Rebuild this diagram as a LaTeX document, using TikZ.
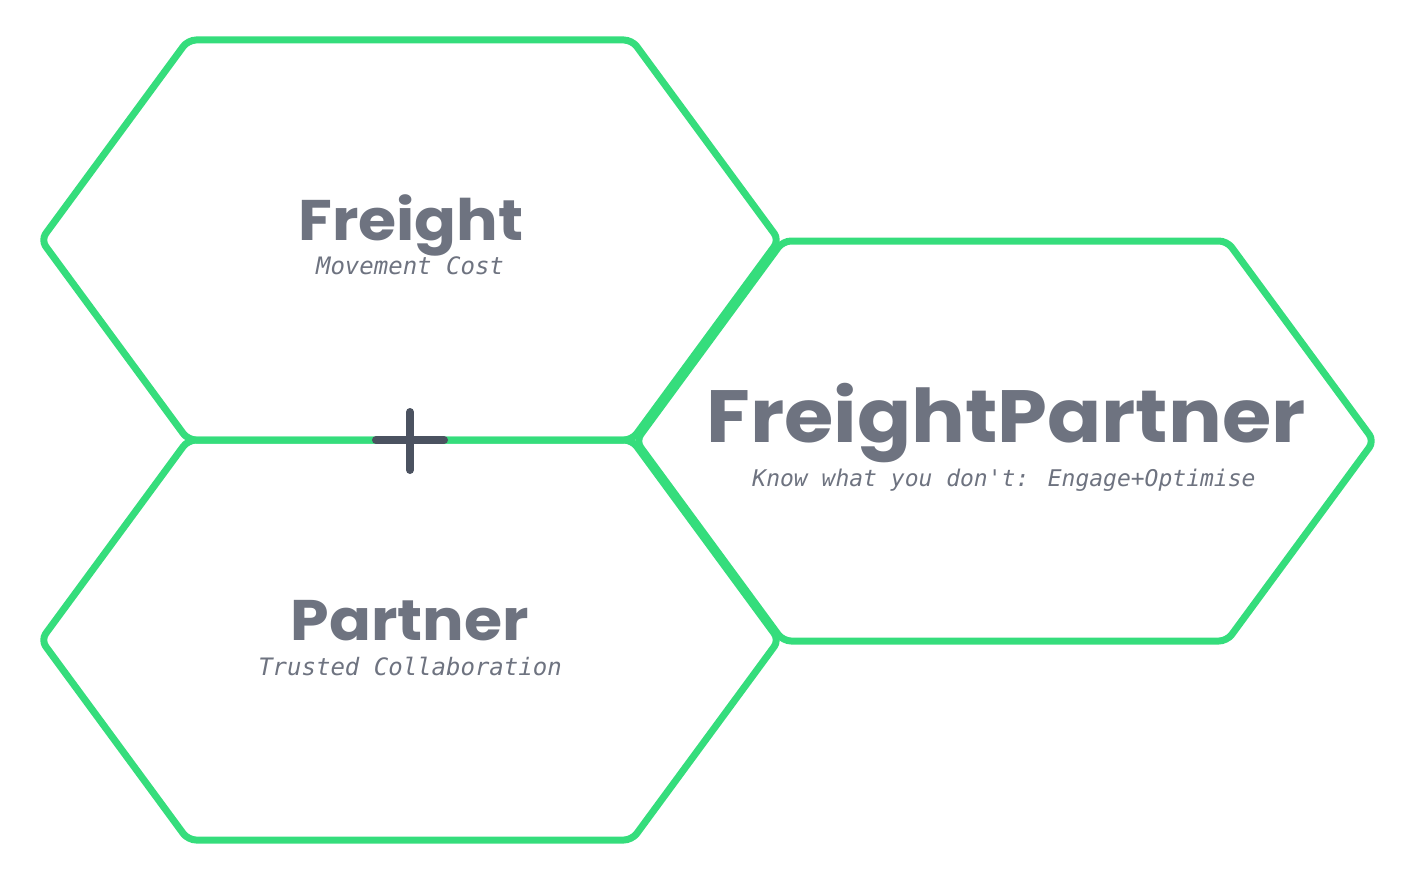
\documentclass[tikz,border=0pt]{standalone}
\usepackage{fontspec}
\newfontfamily\headfont{Poppins}
\newfontfamily\tagfont[Ligatures=ResetAll]{DejaVu Sans Mono}
\definecolor{hexgreen}{HTML}{35DD7C}
\definecolor{textgray}{HTML}{6E7380}
\definecolor{plusgray}{HTML}{4B5260}
\newcommand\widetitle[1]{\scalebox{1.08}[1]{#1}}

\begin{document}
\begin{tikzpicture}
[x=0.5pt,y=-0.5pt,%
  hexline/.style={draw=hexgreen,line width=3.5pt,line join=round,rounded corners=4pt},%
  plusline/.style={draw=plusgray,line width=4pt,line cap=round},%
  title/.style={inner sep=0pt,anchor=base,text=textgray,font=\headfont\bfseries\fontsize{28.6}{30}\selectfont},%
  bigtitle/.style={title,font=\headfont\bfseries\fontsize{37}{40}\selectfont},%
  tagline/.style={inner sep=0pt,anchor=base,text=textgray,font=\tagfont\itshape\fontsize{12}{14}\selectfont}]
\useasboundingbox (0,0) rectangle (1417,883);
%% hexagons
\foreach \cx/\cy in {410/240, 410/640, 1005/441}
{
  \draw[hexline] (\cx-369,\cy) -- (\cx-222,\cy-200) -- (\cx+222,\cy-200)
    -- (\cx+369,\cy) -- (\cx+222,\cy+200) -- (\cx-222,\cy+200) -- cycle;
}
%% plus
\coordinate (plusW) at (376,440);
\coordinate (plusE) at (444,440);
\coordinate (plusN) at (410,412);
\coordinate (plusS) at (410,470);
\draw[plusline] (plusW) -- (plusE);
\draw[plusline] (plusN) -- (plusS);
%% texts
\node[title] (freight) at (411,240) {\widetitle{Freight}};
\node[tagline] (freightsub) at (410,274) {Movement Cost};
\node[title] (partner) at (410,640) {\widetitle{Partner}};
\node[tagline] (partnersub) at (410,675) {Trusted Collaboration};
\node[bigtitle] (brand) at (1006,442) {\widetitle{FreightPartner}};
\node[tagline,font=\tagfont\itshape\fontsize{11.5}{14}\selectfont] (brandsub) at (1004,486) {Know what you don't: Engage+Optimise};
\end{tikzpicture}
\end{document}
